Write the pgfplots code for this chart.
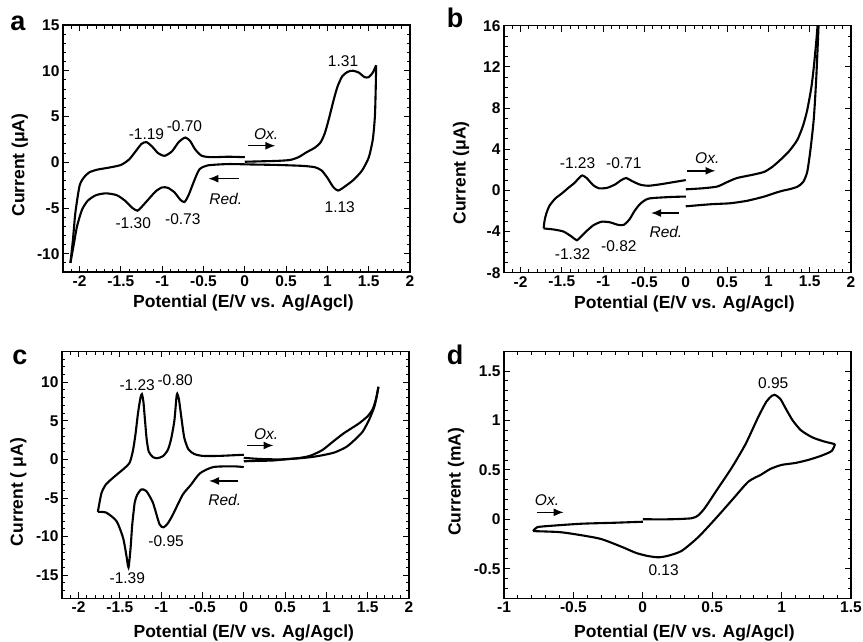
\documentclass[border=0pt]{standalone}
\usepackage{fontspec}
\setmainfont{Liberation Sans}
\usepackage{pgfplots}
\pgfplotsset{compat=1.18}
\usetikzlibrary{arrows.meta}

\pgfplotsset{
  cvaxis/.style={
    scale only axis, width=347bp, height=247bp,
    axis line style={line width=1.3bp},
    every tick/.style={black, line width=0.9bp},
    major tick length=6bp, minor tick length=3.5bp,
    tick align=inside,
    /pgf/number format/assume math mode=true,
    tick label style={font=\fontsize{15.5bp}{17bp}\selectfont\bfseries},
    label style={font=\fontsize{17.5bp}{19bp}\selectfont\bfseries},
    xlabel={Potential (E/V vs. Ag/Agcl)},
    xlabel style={at={(axis description cs:0.52,-0.125)}, anchor=center},
    minor x tick num=4,
    xtick distance=0.5,
  },
  cv/.style={black, line width=2.1bp, smooth, tension=0.4, no markers},
}
\newcommand{\ann}{\fontsize{15.5bp}{17bp}\selectfont}
\newcommand{\annit}{\fontsize{15.5bp}{17bp}\selectfont\itshape}
\tikzset{scanarrow/.style={-{Latex[length=10bp,width=8bp]}, line width=1.4bp}}

\begin{document}
\begin{tikzpicture}
\path[use as bounding box] (0,0) rectangle (863bp,-642bp);

% ---- panel a
\begin{axis}[cvaxis, at={(63bp,-272bp)}, anchor=south west,
  xmin=-2.2, xmax=2, ymin=-12, ymax=15,
  ytick distance=5, minor y tick num=4,
  ylabel={Current (μA)},
  ylabel style={at={(axis description cs:-0.124,0.433)}, anchor=center}]
\addplot[cv] coordinates {
 (0,0.05) (0.2,0.1) (0.4,0.15) (0.55,0.25) (0.65,0.55) (0.75,1.1) (0.85,1.6)
 (0.92,2.2) (0.97,3.2) (1.02,4.8) (1.07,6.6) (1.12,8.2) (1.18,9.4) (1.25,9.9)
 (1.31,10.0) (1.38,9.8) (1.45,9.3) (1.5,9.3) (1.55,9.8) (1.59,10.6)};
\addplot[cv] coordinates {
 (1.59,10.6) (1.585,8) (1.575,5) (1.55,2.5) (1.5,0.5) (1.42,-0.9) (1.32,-1.9)
 (1.22,-2.6) (1.13,-3.1) (1.07,-2.7) (1.0,-1.7) (0.93,-0.9) (0.85,-0.55)
 (0.7,-0.4) (0.4,-0.3) (0.1,-0.25) (-0.2,-0.2) (-0.45,-0.35) (-0.55,-0.8)
 (-0.62,-2.2) (-0.68,-3.6) (-0.73,-4.35) (-0.78,-4.1) (-0.85,-3.3) (-0.93,-2.8)
 (-1.0,-2.75) (-1.08,-3.2) (-1.18,-4.2) (-1.26,-5.0) (-1.30,-5.3) (-1.36,-5.0)
 (-1.45,-4.2) (-1.55,-3.6) (-1.68,-3.4) (-1.8,-3.6) (-1.9,-4.2) (-1.97,-5.2)
 (-2.03,-7) (-2.07,-9) (-2.11,-11)};
\addplot[cv] coordinates {
 (-2.11,-11) (-2.08,-8.5) (-2.05,-5.5) (-2.0,-2.6) (-1.95,-1.7) (-1.88,-1.1)
 (-1.78,-0.8) (-1.65,-0.6) (-1.5,-0.3) (-1.4,0.3) (-1.32,1.2) (-1.25,2.0)
 (-1.19,2.2) (-1.12,1.7) (-1.05,1.0) (-0.97,0.7) (-0.88,1.2) (-0.8,2.2)
 (-0.72,2.7) (-0.66,2.3) (-0.6,1.4) (-0.52,0.7) (-0.4,0.55) (-0.2,0.6) (0,0.55)};
\node[font=\ann] at (axis cs:-1.19,3.1) {-1.19};
\node[font=\ann] at (axis cs:-0.73,3.9) {-0.70};
\node[font=\ann] at (axis cs:1.19,11) {1.31};
\node[font=\ann] at (axis cs:1.15,-4.9) {1.13};
\node[font=\ann] at (axis cs:-1.35,-6.7) {-1.30};
\node[font=\ann] at (axis cs:-0.75,-6.2) {-0.73};
\node[font=\annit] at (axis cs:0.26,3.1) {Ox.};
\draw[scanarrow] (axis cs:0.04,1.8) -- (axis cs:0.37,1.8);
\draw[scanarrow] (axis cs:-0.07,-1.8) -- (axis cs:-0.44,-1.8);
\node[font=\annit] at (axis cs:-0.23,-4.0) {Red.};
\end{axis}

% ---- panel b
\begin{axis}[cvaxis, at={(504bp,-272.7bp)}, anchor=south west,
  xmin=-2.2, xmax=2, ymin=-8, ymax=16,
  ytick distance=4, minor y tick num=3,
  ylabel={Current (μA)},
  ylabel style={at={(axis description cs:-0.124,0.404)}, anchor=center}]
\addplot[cv] coordinates {
 (0,0.1) (0.2,0.2) (0.38,0.37) (0.5,0.8) (0.62,1.2) (0.8,1.5) (0.95,1.8)
 (1.05,2.3) (1.15,3.0) (1.25,3.8) (1.35,4.9) (1.42,6.3) (1.47,7.8) (1.52,10)
 (1.55,12) (1.58,14.5) (1.6,16.5)};
\addplot[cv] coordinates {
 (1.61,16.5) (1.58,11) (1.55,7) (1.51,4) (1.47,1.8) (1.42,0.8) (1.35,0.35)
 (1.25,0.1) (1.19,0.0) (1.1,-0.2) (0.95,-0.6) (0.75,-1.0) (0.54,-1.25)
 (0.3,-1.35) (0,-1.55)};
\addplot[cv] coordinates {
 (0,-0.6) (-0.2,-0.65) (-0.45,-0.8) (-0.55,-1.3) (-0.62,-2.0) (-0.68,-2.8)
 (-0.75,-3.35) (-0.82,-3.35) (-0.92,-3.1) (-1.02,-3.05) (-1.12,-3.4)
 (-1.22,-4.1) (-1.28,-4.6) (-1.32,-4.85) (-1.38,-4.5) (-1.48,-4.0) (-1.6,-3.8)
 (-1.72,-3.7)};
\addplot[cv] coordinates {
 (-1.72,-3.7) (-1.71,-3.0) (-1.69,-2.3) (-1.65,-1.5) (-1.58,-0.8) (-1.5,-0.3)
 (-1.42,0.25) (-1.35,0.7) (-1.28,1.3) (-1.25,1.45) (-1.2,1.2) (-1.12,0.5)
 (-1.05,0.2) (-0.95,0.25) (-0.85,0.6) (-0.78,1.0) (-0.72,1.2) (-0.65,0.9)
 (-0.55,0.55) (-0.45,0.45) (-0.3,0.6) (-0.15,0.8) (0,1.0)};
\node[font=\ann] at (axis cs:-1.31,2.6) {-1.23};
\node[font=\ann] at (axis cs:-0.75,2.6) {-0.71};
\node[font=\ann] at (axis cs:-1.37,-6.2) {-1.32};
\node[font=\ann] at (axis cs:-0.81,-5.4) {-0.82};
\node[font=\annit] at (axis cs:0.26,3.1) {Ox.};
\draw[scanarrow] (axis cs:0.02,1.9) -- (axis cs:0.36,1.9);
\draw[scanarrow] (axis cs:-0.08,-2.2) -- (axis cs:-0.42,-2.2);
\node[font=\annit] at (axis cs:-0.24,-4.0) {Red.};
\end{axis}

% ---- panel c
\begin{axis}[cvaxis, at={(62bp,-598.3bp)}, anchor=south west,
  xmin=-2.2, xmax=2, ymin=-18, ymax=14,
  ytick distance=5, minor y tick num=4,
  ylabel={Current ( μA)},
  ylabel style={at={(axis description cs:-0.126,0.43)}, anchor=center},
  xlabel style={at={(axis description cs:0.524,-0.14)}}]
\addplot[cv] coordinates {
 (0,0.2) (0.2,0.05) (0.45,0.0) (0.65,0.15) (0.8,0.45) (0.95,1.2) (1.08,2.3)
 (1.2,3.3) (1.3,4.0) (1.4,4.7) (1.5,5.6) (1.56,6.5) (1.6,7.8) (1.63,9.4)};
\addplot[cv] coordinates {
 (1.63,9.4) (1.61,8.2) (1.58,6.8) (1.52,5.2) (1.44,3.6) (1.34,2.5) (1.24,1.6)
 (1.1,0.9) (0.96,0.55) (0.82,0.3) (0.68,0.15) (0.5,0.0) (0.35,-0.15)
 (0.15,-0.2) (0,-0.25)};
\addplot[cv] coordinates {
 (0,-1.0) (-0.13,-0.9) (-0.37,-1.0) (-0.53,-1.8) (-0.64,-3.3) (-0.74,-4.6)
 (-0.86,-7.2) (-0.92,-8.3) (-0.97,-8.8) (-1.02,-8.4) (-1.1,-5.6) (-1.18,-4.1)
 (-1.24,-3.9) (-1.29,-4.6) (-1.32,-5.6) (-1.35,-8.5) (-1.37,-11.5)
 (-1.395,-14) (-1.42,-12.5) (-1.46,-10.2) (-1.54,-8.0) (-1.665,-6.9)
 (-1.766,-6.8)};
\addplot[cv] coordinates {
 (-1.766,-6.8) (-1.746,-5.6) (-1.72,-4.3) (-1.665,-3.2) (-1.54,-2.0)
 (-1.45,-1.2) (-1.38,-0.4) (-1.34,1.2) (-1.31,3.3) (-1.28,6.0) (-1.25,8.0)
 (-1.233,8.45) (-1.215,7.5) (-1.195,5.0) (-1.175,2.6) (-1.15,1.0) (-1.1,0.3)
 (-1.05,0.15) (-0.98,0.4) (-0.92,1.2) (-0.88,2.6) (-0.84,5.0) (-0.815,8.0)
 (-0.805,8.5) (-0.785,7.8) (-0.755,5.4) (-0.72,2.8) (-0.67,1.3) (-0.6,0.7)
 (-0.5,0.45) (-0.3,0.45) (0,0.6)};
\node[font=\ann] at (axis cs:-1.29,9.6) {-1.23};
\node[font=\ann] at (axis cs:-0.83,10.3) {-0.80};
\node[font=\ann] at (axis cs:-0.94,-10.6) {-0.95};
\node[font=\ann] at (axis cs:-1.41,-15.4) {-1.39};
\node[font=\annit] at (axis cs:0.27,3.3) {Ox.};
\draw[scanarrow] (axis cs:0.04,1.8) -- (axis cs:0.36,1.8);
\draw[scanarrow] (axis cs:-0.07,-2.8) -- (axis cs:-0.42,-2.8);
\node[font=\annit] at (axis cs:-0.23,-5.3) {Red.};
\end{axis}

% ---- panel d
\begin{axis}[cvaxis, at={(504bp,-598.3bp)}, anchor=south west,
  xmin=-1, xmax=1.5, ymin=-0.8, ymax=1.7,
  ytick distance=0.5, minor y tick num=4,
  ylabel={Current (mA)},
  ylabel style={at={(axis description cs:-0.138,0.472)}, anchor=center},
  xlabel style={at={(axis description cs:0.52,-0.14)}}]
\addplot[cv] coordinates {
 (0,0.0) (0.2,0.0) (0.35,0.01) (0.4,0.04) (0.45,0.12) (0.54,0.31) (0.64,0.52)
 (0.74,0.76) (0.83,1.03) (0.89,1.19) (0.93,1.25) (0.95,1.26) (0.99,1.22)
 (1.03,1.12) (1.08,1.0) (1.14,0.9) (1.22,0.83) (1.3,0.79) (1.385,0.76)};
\addplot[cv] coordinates {
 (1.385,0.76) (1.36,0.69) (1.28,0.64) (1.19,0.6) (1.1,0.57) (1.0,0.55)
 (0.92,0.51) (0.85,0.45) (0.76,0.38) (0.64,0.19) (0.52,0.0) (0.4,-0.18)
 (0.28,-0.32) (0.18,-0.37) (0.11,-0.385) (0.03,-0.37) (-0.05,-0.34)
 (-0.15,-0.28) (-0.3,-0.2) (-0.45,-0.16) (-0.6,-0.13) (-0.79,-0.12)};
\addplot[cv] coordinates {
 (-0.79,-0.12) (-0.76,-0.08) (-0.65,-0.065) (-0.44,-0.045) (-0.2,-0.035)
 (0,-0.025)};
\node[font=\ann] at (axis cs:0.94,1.38) {0.95};
\node[font=\ann] at (axis cs:0.15,-0.52) {0.13};
\node[font=\annit] at (axis cs:-0.69,0.19) {Ox.};
\draw[scanarrow] (axis cs:-0.76,0.07) -- (axis cs:-0.57,0.07);
\end{axis}

% panel letters
\node[anchor=base, font=\fontsize{27bp}{27bp}\selectfont\bfseries] at (18bp,-30bp) {a};
\node[anchor=base, font=\fontsize{27bp}{27bp}\selectfont\bfseries] at (455bp,-27bp) {b};
\node[anchor=base, font=\fontsize{27bp}{27bp}\selectfont\bfseries] at (20bp,-364bp) {c};
\node[anchor=base, font=\fontsize{27bp}{27bp}\selectfont\bfseries] at (455bp,-364bp) {d};
\end{tikzpicture}
\end{document}
